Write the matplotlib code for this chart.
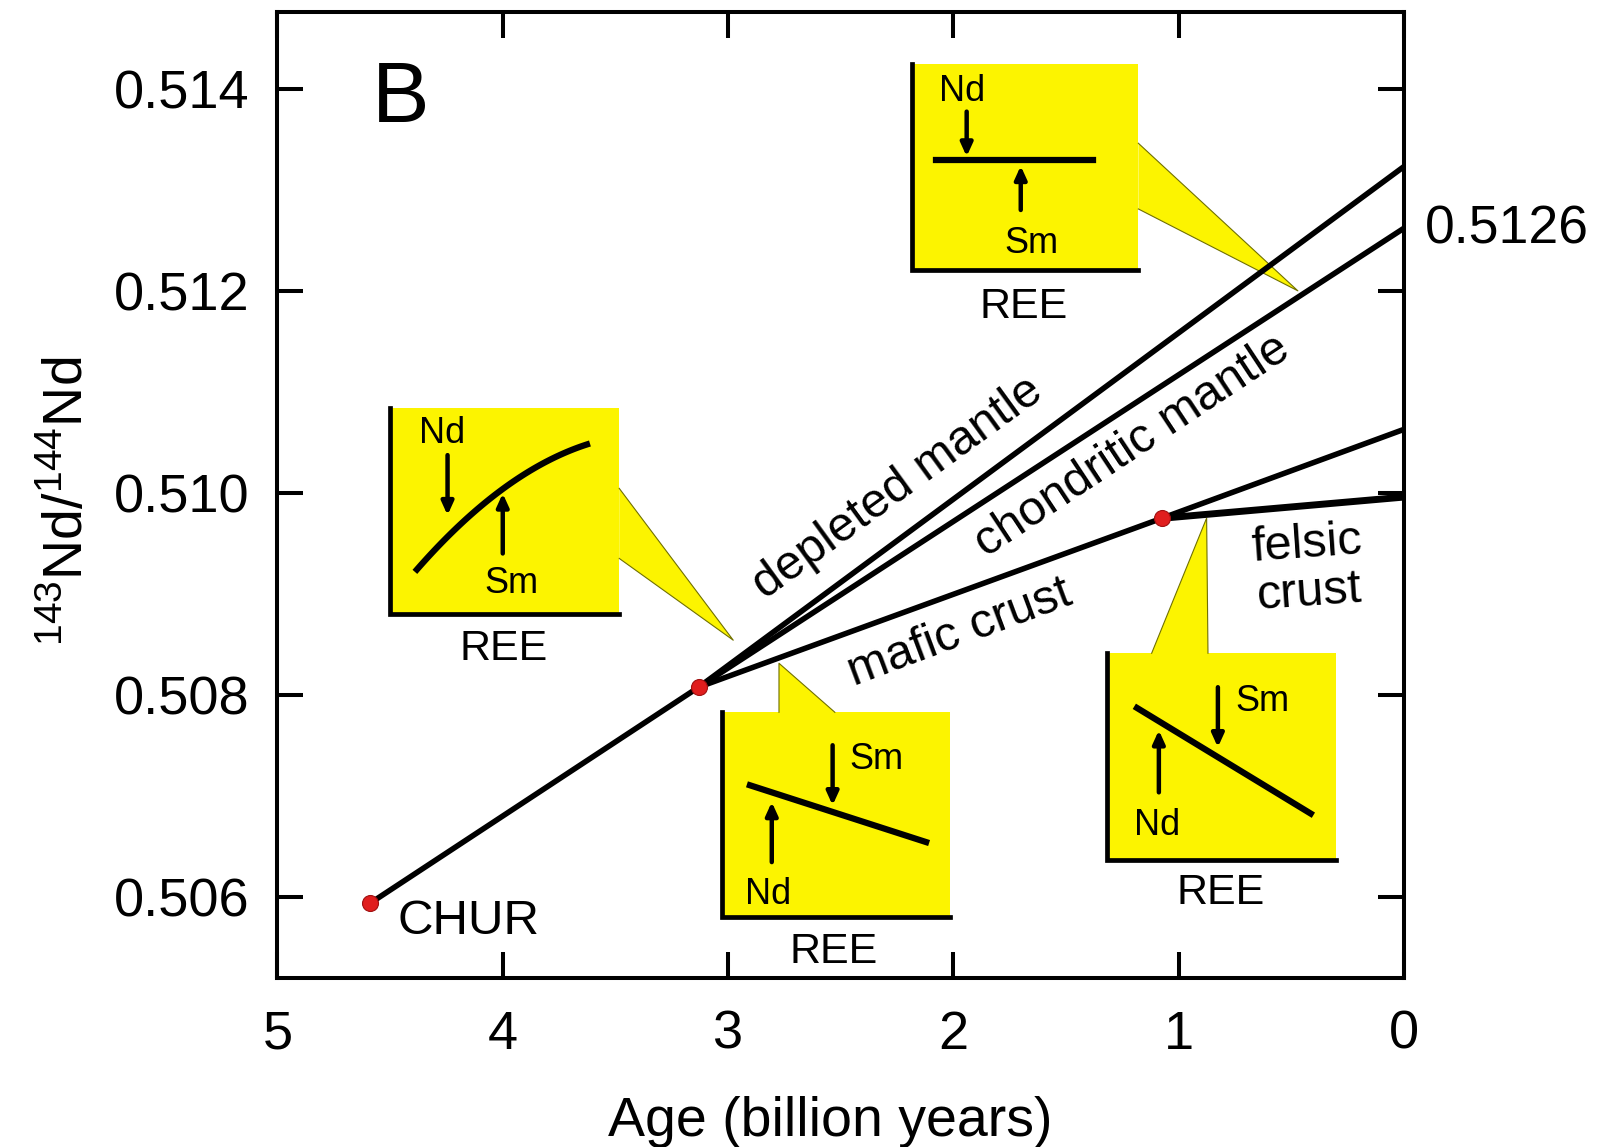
import matplotlib
matplotlib.use("Agg")
import matplotlib.pyplot as plt
from matplotlib.patches import Rectangle, Polygon
import numpy as np

plt.rcParams["font.family"] = ["Liberation Sans", "DejaVu Sans"]
plt.rcParams["mathtext.fontset"] = "custom"
plt.rcParams["mathtext.rm"] = "Liberation Sans"
plt.rcParams["mathtext.it"] = "Liberation Sans:italic"

# evolution lines (age in Ga, 143Nd/144Nd)
chur_age = [4.59, 3.13]
chur_nd = [0.50594, 0.50808]
depleted_age = [3.13, 0.0]
depleted_nd = [0.50808, 0.51323]
chondritic_age = [3.13, 0.0]
chondritic_nd = [0.50808, 0.51262]
mafic_age = [3.13, 1.075, 0.0]
mafic_nd = [0.50808, 0.50975, 0.51063]
felsic_age = [1.075, 0.0]
felsic_nd = [0.50975, 0.50996]
dot_age = [4.59, 3.13, 1.075]
dot_nd = [0.50594, 0.50808, 0.50975]

xticks = [5, 4, 3, 2, 1, 0]
xticklabels = ["5", "4", "3", "2", "1", "0"]
yticks = [0.506, 0.508, 0.510, 0.512, 0.514]
yticklabels = ["0.506", "0.508", "0.510", "0.512", "0.514"]

YELLOW = "#fcf400"

fig = plt.figure(figsize=(16, 11.47), dpi=100)
ax = fig.add_axes([0.1734, 0.1473, 0.7041, 0.8422])

ax.plot(chur_age, chur_nd, color="black", lw=4, zorder=5, solid_capstyle="butt")
ax.plot(depleted_age, depleted_nd, color="black", lw=4, zorder=5, solid_capstyle="butt")
ax.plot(chondritic_age, chondritic_nd, color="black", lw=4, zorder=5, solid_capstyle="butt")
ax.plot(mafic_age, mafic_nd, color="black", lw=4, zorder=5, solid_capstyle="butt")
ax.plot(felsic_age, felsic_nd, color="black", lw=5, zorder=5, solid_capstyle="butt")
ax.plot(dot_age, dot_nd, "o", ms=11.5, color="#e01e1e", mec="#a01010", mew=0.8, zorder=6)

ax.set_xlim(5, 0)
ax.set_ylim(0.505202, 0.514758)
ax.set_xticks(xticks)
ax.set_xticklabels(xticklabels)
ax.set_yticks(yticks)
ax.set_yticklabels(yticklabels)
ax.tick_params(direction="in", length=19, width=2.9, top=True, right=True,
               labelsize=39, color="black")
ax.tick_params(axis="x", pad=23)
ax.tick_params(axis="y", pad=20)
for s in ax.spines.values():
    s.set_linewidth(2.9)

ax.set_xlabel("Age (billion years)", fontsize=40, labelpad=26)
ax.xaxis.label.set_x(0.4905)
ax.set_ylabel(r"$^{143}$Nd/$^{144}$Nd", fontsize=40, labelpad=14)
ax.yaxis.label.set_y(0.493)


def callout(box, pointer, z=2):
    x0, x1, y0, y1 = box
    ax.add_patch(Rectangle((min(x0, x1), y0), abs(x1 - x0), y1 - y0,
                           facecolor=YELLOW, edgecolor="none", zorder=z))
    ax.add_patch(Polygon(pointer, closed=True, facecolor=YELLOW,
                         edgecolor="none", zorder=z))
    px = [p[0] for p in pointer]
    py = [p[1] for p in pointer]
    ax.plot(px, py, color="#707000", lw=0.8, zorder=z + 0.1)
    ax.plot([x0, x0, x1], [y1, y0, y0], color="black", lw=3.4, zorder=z + 0.2,
            solid_joinstyle="miter")


def arrow(x, ytail, yhead):
    ax.annotate("", xy=(x, yhead), xytext=(x, ytail),
                arrowprops=dict(arrowstyle="-|>,head_length=0.55,head_width=0.25",
                                lw=3.2, color="black", mutation_scale=14,
                                shrinkA=0, shrinkB=0), zorder=4)


# top callout (depleted mantle source)
callout((2.185, 1.179, 0.512206, 0.514245),
        [(1.179, 0.51346), (0.471, 0.512), (1.179, 0.51281)])
ax.plot([2.077, 1.382], [0.513295, 0.513295], color="black", lw=4.5, zorder=4)
arrow(1.941, 0.513773, 0.513329)
arrow(1.701, 0.5128, 0.513236)
ax.text(1.963, 0.51397, "Nd", fontsize=26, ha="center", va="center", zorder=4)
ax.text(1.652, 0.51247, "Sm", fontsize=26, ha="center", va="center", zorder=4)
ax.text(1.69, 0.511845, "REE", fontsize=31, ha="center", va="center")

# left callout (chondritic)
callout((4.501, 3.483, 0.508808, 0.510837),
        [(3.483, 0.510046), (2.977, 0.508544), (3.483, 0.509353)])
t = np.linspace(0, 1, 60)
p0 = np.array([4.390, 0.50922])
c = np.array([3.9985, 0.510225])
p2 = np.array([3.613, 0.51049])
curve = np.outer((1 - t) ** 2, p0) + np.outer(2 * (1 - t) * t, c) + np.outer(t ** 2, p2)
ax.plot(curve[:, 0], curve[:, 1], color="black", lw=4.5, zorder=4, solid_capstyle="butt")
arrow(4.245, 0.510375, 0.509781)
arrow(4.0, 0.509402, 0.509996)
ax.text(4.271, 0.51059, "Nd", fontsize=26, ha="center", va="center", zorder=4)
ax.text(3.96, 0.509105, "Sm", fontsize=26, ha="center", va="center", zorder=4)
ax.text(3.998, 0.50846, "REE", fontsize=31, ha="center", va="center")

# lower-middle callout (mafic crust)
callout((3.027, 2.015, 0.505802, 0.507831),
        [(2.774, 0.507831), (2.774, 0.508316), (2.526, 0.507831)])
ax.plot([2.903, 2.121], [0.507109, 0.506547], color="black", lw=4.5, zorder=4)
arrow(2.536, 0.507505, 0.506911)
arrow(2.806, 0.506349, 0.506943)
ax.text(2.340, 0.50736, "Sm", fontsize=26, ha="center", va="center", zorder=4)
ax.text(2.822, 0.50603, "Nd", fontsize=26, ha="center", va="center", zorder=4)
ax.text(2.533, 0.50546, "REE", fontsize=31, ha="center", va="center")

# lower-right callout (felsic crust)
callout((1.320, 0.302, 0.506366, 0.508415),
        [(1.120, 0.508415), (0.876, 0.509752), (0.870, 0.508415)])
ax.plot([1.185, 0.414], [0.507874, 0.506829], color="black", lw=4.5, zorder=4)
arrow(0.826, 0.508079, 0.507485)
arrow(1.088, 0.507039, 0.507653)
ax.text(0.626, 0.50794, "Sm", fontsize=26, ha="center", va="center", zorder=4)
ax.text(1.097, 0.50671, "Nd", fontsize=26, ha="center", va="center", zorder=4)
ax.text(0.815, 0.50604, "REE", fontsize=31, ha="center", va="center")

# line labels
ax.text(2.246, 0.51005, "depleted mantle", fontsize=35, rotation=36,
        rotation_mode="anchor", ha="center", va="center")
ax.text(1.204, 0.510465, "chondritic mantle", fontsize=35, rotation=33.5,
        rotation_mode="anchor", ha="center", va="center")
ax.text(1.971, 0.50861, "mafic crust", fontsize=35, rotation=20.5,
        rotation_mode="anchor", ha="center", va="center")
ax.text(0.426, 0.509253, "felsic\ncrust", fontsize=35, rotation=4,
        rotation_mode="anchor", ha="center", va="center", linespacing=1.1)
ax.text(4.465, 0.50576, "CHUR", fontsize=35.5, ha="left", va="center")
ax.text(4.452, 0.51389, "B", fontsize=62, ha="center", va="center")

ax.text(1.0186, 0.51261, "0.5126", fontsize=38.5, ha="left", va="center",
        transform=ax.get_yaxis_transform(), clip_on=False)

fig.savefig("out.png", dpi=100)
